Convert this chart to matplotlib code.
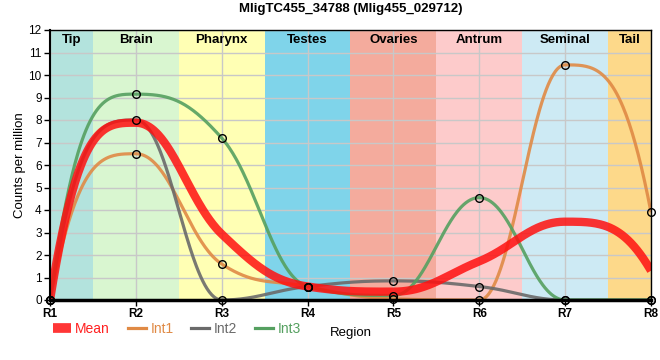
import numpy as np
import matplotlib
matplotlib.use("Agg")
import matplotlib.pyplot as plt
from matplotlib.lines import Line2D
from matplotlib import transforms

plt.rcParams['font.family'] = ['Liberation Sans', 'DejaVu Sans']

# ---- data ----
regions = ['R1', 'R2', 'R3', 'R4', 'R5', 'R6', 'R7', 'R8']
bands = ['Tip', 'Brain', 'Pharynx', 'Testes', 'Ovaries', 'Antrum', 'Seminal', 'Tail']
band_colors = ['#b3e3dd', '#d9f6d0', '#ffffb4', '#7fd4ea', '#f4ab9d', '#fdcbcb', '#cdeaf4', '#fdd98a']
mean = [0, 7.88, 2.93, 0.6, 0.37, 1.72, 3.48, 1.3]
int1 = [0, 6.5, 1.6, 0.6, 0.05, 0, 10.45, 3.9]
int2 = [0, 8.0, 0, 0.6, 0.85, 0.6, 0, 0]
int3 = [0, 9.15, 7.2, 0.6, 0.2, 4.55, 0, 0]
series_names = ['Int1', 'Int2', 'Int3']
series_colors = ['#e08a45', '#6a6a6a', '#55a060']
title = 'MligTC455_34788 (Mlig455_029712)'


def spline(xs, ys, smoothing=1.5, n=80):
    xs = np.asarray(xs, float); ys = np.asarray(ys, float)
    N = len(xs)
    lcx, lcy = xs.copy(), ys.copy()
    rcx, rcy = xs.copy(), ys.copy()
    d = smoothing + 1
    for i in range(1, N - 1):
        px, py = xs[i], ys[i]
        lx, ly = xs[i - 1], ys[i - 1]
        nx, ny = xs[i + 1], ys[i + 1]
        a = (smoothing * px + lx) / d
        b = (smoothing * py + ly) / d
        c = (smoothing * px + nx) / d
        e = (smoothing * py + ny) / d
        corr = 0
        if c != a:
            corr = (e - b) * (c - px) / (c - a) + py - e
        b += corr; e += corr
        if b > ly and b > py:
            b = max(ly, py); e = 2 * py - b
        elif b < ly and b < py:
            b = min(ly, py); e = 2 * py - b
        if e > ny and e > py:
            e = max(ny, py); b = 2 * py - e
        elif e < ny and e < py:
            e = min(ny, py); b = 2 * py - e
        lcx[i], lcy[i], rcx[i], rcy[i] = a, b, c, e
    # end points: steep tangent (3*secant - 2*neighbour slope)
    for end, nb in [(0, 1), (N - 1, N - 2)]:
        dx = xs[nb] - xs[end]
        sec = (ys[nb] - ys[end]) / dx
        m1 = (rcy[nb] - lcy[nb]) / (rcx[nb] - lcx[nb])
        m0 = 3 * sec - 2 * m1
        cy = ys[end] + m0 * dx / 3
        lo, hi = min(ys[end], ys[nb]), max(ys[end], ys[nb])
        cy = min(max(cy, lo), hi)
        cx = xs[end] + dx / 3
        if end == 0:
            rcx[0], rcy[0] = cx, cy
        else:
            lcx[end], lcy[end] = cx, cy
    t = np.linspace(0, 1, n)[:, None]
    out = []
    for i in range(1, N):
        P0 = np.array([xs[i - 1], ys[i - 1]])
        P1 = np.array([rcx[i - 1], rcy[i - 1]])
        P2 = np.array([lcx[i], lcy[i]])
        P3 = np.array([xs[i], ys[i]])
        seg = ((1 - t) ** 3) * P0 + 3 * ((1 - t) ** 2) * t * P1 + 3 * (1 - t) * t ** 2 * P2 + t ** 3 * P3
        out.append(seg if i == 1 else seg[1:])
    out = np.vstack(out)
    return out[:, 0], out[:, 1]


fig = plt.figure(figsize=(6.6, 3.6), dpi=100)
ax = fig.add_axes([50 / 660, 1 - 300 / 360, 601 / 660, 270 / 360])
x = np.arange(len(regions))

for i, (b, col) in enumerate(zip(bands, band_colors)):
    lo = max(i - 0.5, 0)
    hi = min(i + 0.5, len(regions) - 1)
    ax.axvspan(lo, hi, color=col, lw=0, zorder=0)
    tr = transforms.blended_transform_factory(ax.transData, ax.transAxes)
    ax.text((lo + hi) / 2, 0.962, b, transform=tr, ha='center', va='center',
            fontsize=9.5, fontweight='bold', zorder=6)

ax.set_xlim(0, len(regions) - 1)
ax.set_ylim(0, 12)
ax.set_xticks(x)
ax.set_xticklabels(regions, fontweight='bold', fontsize=8.5)
ax.set_yticks(range(0, 13))
ax.tick_params(axis='y', labelsize=8.5, length=4, width=1, pad=2)
ax.tick_params(axis='x', length=4, width=1, pad=2)
ax.grid(True, color='#c8c8c8', lw=1, zorder=1)
ax.set_axisbelow(False)
for gl in ax.get_xgridlines() + ax.get_ygridlines():
    gl.set_zorder(1)

for vals, name, col in zip([int1, int2, int3], series_names, series_colors):
    sx, sy = spline(x, vals)
    ax.plot(sx, sy, color=col, lw=2.3, alpha=0.9, zorder=3, solid_capstyle='butt')

mx, my = spline(x, mean)
ax.plot(mx, my, color='#ff1010', lw=6, alpha=0.85, zorder=4, solid_capstyle='butt')

for vals in [int1, int2, int3]:
    ax.plot(x, vals, ls='none', marker='o', ms=5.5, mfc='none', mec='black', mew=1,
            zorder=5, clip_on=False)

for s in ['top', 'right']:
    ax.spines[s].set_linewidth(1)
ax.spines['left'].set_linewidth(1.5)
ax.spines['bottom'].set_linewidth(2.5)
for s in ax.spines.values():
    s.set_zorder(7)

ax.set_title(title, fontsize=9.5, fontweight='bold', pad=13)
ax.set_ylabel('Counts per million', fontsize=9.5, labelpad=2)
ax.set_xlabel('Region', fontsize=9.5, labelpad=5)

handles = [Line2D([], [], color='#ff2020', lw=7, alpha=0.9, solid_capstyle='butt')]
handles += [Line2D([], [], color=c, lw=2.3) for c in series_colors]
leg = fig.legend(handles, ['Mean'] + series_names, loc='center left',
                 bbox_to_anchor=(53 / 660, 1 - 329 / 360), ncol=4, frameon=False,
                 fontsize=10, handlelength=1.3, handletextpad=0.3, columnspacing=1.3,
                 borderpad=0, borderaxespad=0, labelcolor='linecolor')

fig.savefig('out.png', dpi=100)
